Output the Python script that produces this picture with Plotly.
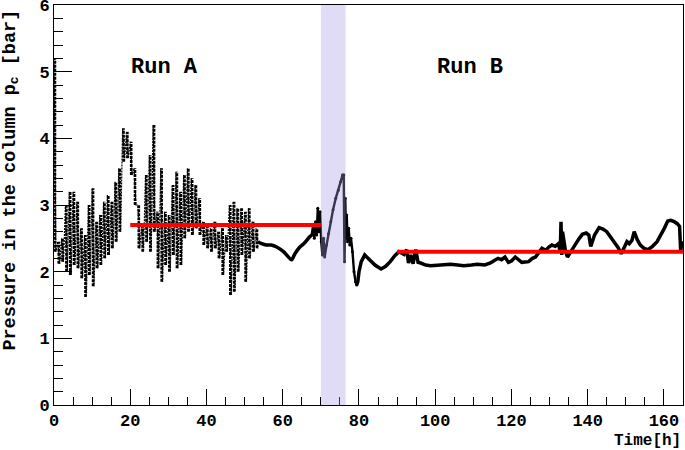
import plotly.graph_objects as go

# ---- Run A (oscillating part): hourly high / low pressure reads [bar]
timeA = [0, 1, 2, 3, 4, 5, 6, 7, 8, 9, 10, 11, 12, 13, 14, 15, 16, 17, 18, 19,
         20, 21, 22, 23, 24, 25, 26, 27, 28, 29, 30, 31, 32, 33, 34, 35, 36, 37,
         38, 39, 40, 41, 42, 43, 44, 45, 46, 47, 48, 49, 50, 51, 52, 53]
highA = [5.2, 2.45, 2.5, 3.0, 3.2, 3.2, 3.05, 2.65, 2.55, 3.0, 3.25, 2.75, 2.85,
         3.05, 3.15, 3.05, 3.35, 3.55, 4.15, 4.1, 3.95, 3.55, 3.0, 2.7, 3.45,
         3.75, 4.2, 2.9, 3.55, 2.9, 2.85, 3.3, 3.5, 3.2, 3.45, 3.55, 3.4, 3.3,
         3.1, 2.75, 2.7, 2.65, 2.75, 2.6, 2.65, 2.55, 3.0, 3.05, 2.95, 2.95,
         2.9, 2.95, 2.75, 2.65]
lowA = [2.3, 2.12, 2.15, 2.0, 1.95, 2.1, 2.05, 1.9, 1.62, 1.95, 1.78, 2.05, 2.1,
        2.2, 2.25, 2.35, 2.45, 2.6, 3.65, 3.7, 3.45, 3.0, 2.35, 2.3, 2.45, 2.3,
        2.6, 2.05, 1.85, 2.1, 2.0, 2.25, 2.05, 2.1, 2.5, 2.6, 2.55, 2.65, 2.55,
        2.4, 2.35, 2.3, 2.35, 2.2, 1.95, 2.3, 1.65, 1.7, 2.0, 2.25, 1.85, 2.2,
        2.3, 2.35]

# ---- smooth stretch at the end of Run A
timeA2 = [53.5, 54.5, 55.7, 57.0, 58.4, 60.2, 61.2, 62.3, 63.2, 64.5, 65.5,
          66.3, 67.0, 67.6]
presA2 = [2.45, 2.42, 2.40, 2.40, 2.37, 2.30, 2.24, 2.18, 2.27, 2.37, 2.42,
          2.47, 2.52, 2.55]

# ---- noisy end of Run A, transition (shaded) and decay
timeT = [67.6, 68.0, 68.3, 68.6, 68.9, 69.2, 69.5, 69.8, 70.1, 70.4, 70.7,
         71.0, 71.5, 72.0, 72.6, 73.2, 73.9, 74.6, 75.2, 75.7, 76.0, 76.2,
         76.4, 76.6, 76.8, 77.0, 77.3, 77.6, 77.9, 78.3, 78.7, 79.1, 79.4]
presT = [2.55, 2.7, 2.5, 2.75, 2.55, 2.95, 2.6, 2.9, 2.45, 2.25, 2.5, 2.22,
         2.4, 2.57, 2.75, 2.93, 3.1, 3.22, 3.35, 3.45, 3.45, 2.15, 3.1, 2.5,
         2.85, 2.45, 2.65, 2.4, 2.5, 2.3, 2.0, 1.85, 1.8]

# ---- Run B (smooth)
timeB = [79.4, 79.7, 80.0, 80.6, 81.5, 82.9, 84.2, 85.8, 87.0, 88.2, 89.4,
         90.5, 91.2, 91.8, 92.5, 93.0, 93.6, 94.2, 94.9, 95.5, 96.2, 97.5,
         98.8, 100.5, 102.4, 104.0, 105.9, 107.5, 109.5, 111.0, 113.0, 114.5,
         115.6, 116.5, 117.4, 118.3, 119.2, 120.0, 121.0, 122.0, 122.7, 124.5,
         125.5, 126.3, 127.0, 128.0, 129.0, 129.8, 130.6, 131.5, 132.3, 132.8,
         133.0, 133.2, 133.4, 134.2, 134.7, 135.5, 136.9, 137.8, 138.6, 139.6,
         140.3, 140.8, 141.8, 143.0, 144.0, 145.0, 146.0, 147.0, 148.0, 148.8,
         149.6, 150.3, 150.9, 151.6, 152.2, 153.0, 153.8, 154.8, 155.8, 157.0,
         158.2, 159.2, 160.1, 161.0, 161.8, 162.7, 163.5, 164.1, 164.4, 164.7,
         165.0]
presB = [1.8, 1.85, 2.0, 2.15, 2.25, 2.17, 2.1, 2.04, 2.08, 2.15, 2.24, 2.3,
         2.28, 2.26, 2.33, 2.13, 2.25, 2.12, 2.33, 2.14, 2.13, 2.1, 2.09, 2.1,
         2.1, 2.11, 2.1, 2.09, 2.1, 2.11, 2.1, 2.13, 2.17, 2.2, 2.18, 2.22,
         2.14, 2.16, 2.22, 2.17, 2.14, 2.15, 2.2, 2.22, 2.28, 2.35, 2.32, 2.37,
         2.4, 2.38, 2.42, 2.3, 2.75, 2.25, 2.6, 2.3, 2.22, 2.3, 2.42, 2.5, 2.56,
         2.58, 2.55, 2.38, 2.55, 2.66, 2.64, 2.6, 2.52, 2.46, 2.36, 2.27, 2.38,
         2.45, 2.42, 2.47, 2.6, 2.48, 2.4, 2.35, 2.33, 2.38, 2.45, 2.55, 2.65,
         2.76, 2.77, 2.75, 2.72, 2.68, 2.3, 2.45, 2.4]

# ---- mean values of the runs
runA_span = [20, 70]
runA_mean = 2.7
runB_span = [90, 165]
runB_mean = 2.3

# ---- transition window
trans_span = [70, 76.5]

FONT = "Liberation Mono, Courier New, monospace"

# vertical high-low strokes of Run A (one per hourly read)
vx, vy = [], []
for t, hi, lo in zip(timeA, highA, lowA):
    vx += [t + 0.25, t + 0.25, None]
    vy += [lo, hi, None]
# zigzag connecting the reads
zx, zy = [], []
for t, hi, lo in zip(timeA, highA, lowA):
    zx += [t, t + 0.5]
    zy += [hi, lo]

fig = go.Figure()
fig.add_trace(go.Scatter(x=vx, y=vy, mode="lines",
                         line=dict(color="black", width=2.6, dash="3px,1px"),
                         showlegend=False, hoverinfo="skip"))
fig.add_trace(go.Scatter(x=zx, y=zy, mode="lines",
                         line=dict(color="black", width=1.2, dash="2px,1px"),
                         showlegend=False, hoverinfo="skip"))
fig.add_trace(go.Scatter(x=timeA2, y=presA2, mode="lines",
                         line=dict(color="black", width=3.5, shape="spline"),
                         showlegend=False, hoverinfo="skip"))
fig.add_trace(go.Scatter(x=timeT, y=presT, mode="lines+markers",
                         line=dict(color="black", width=2.4),
                         marker=dict(color="black", size=3),
                         showlegend=False, hoverinfo="skip"))
fig.add_trace(go.Scatter(x=timeB, y=presB, mode="lines",
                         line=dict(color="black", width=3.5),
                         showlegend=False, hoverinfo="skip"))
fig.add_trace(go.Scatter(x=runA_span, y=[runA_mean] * 2, mode="lines",
                         line=dict(color="#ff0000", width=4),
                         showlegend=False, hoverinfo="skip"))
fig.add_trace(go.Scatter(x=runB_span, y=[runB_mean] * 2, mode="lines",
                         line=dict(color="#ff0000", width=4),
                         showlegend=False, hoverinfo="skip"))

fig.add_shape(type="rect", xref="x", yref="y",
              x0=trans_span[0], x1=trans_span[1], y0=0, y1=6,
              fillcolor="rgba(169,155,226,0.35)", line=dict(width=0),
              layer="above")

fig.add_annotation(x=29, y=5.07, text="Run A", showarrow=False,
                   font=dict(family=FONT, size=22, color="black", weight="bold"))
fig.add_annotation(x=109, y=5.07, text="Run B", showarrow=False,
                   font=dict(family=FONT, size=22, color="black", weight="bold"))

fig.add_annotation(xref="paper", yref="paper", x=1.0, y=-0.09,
                   xanchor="right", yanchor="middle", text="Time[h]",
                   showarrow=False,
                   font=dict(family=FONT, size=16, color="black", weight="bold"))
fig.add_annotation(xref="paper", yref="paper", x=-0.069, y=0.5625,
                   xanchor="center", yanchor="middle", textangle=-90,
                   text="Pressure in the column p<sub>c</sub> [bar]",
                   showarrow=False, borderpad=0,
                   font=dict(family=FONT, size=18.5, color="black", weight="bold"))

axis_common = dict(showline=True, linecolor="black", linewidth=1, mirror=True,
                   ticks="inside", tickcolor="black", showgrid=False,
                   zeroline=False, automargin=False, ticklabeloverflow="allow",
                   tickfont=dict(family=FONT, size=17, color="black", weight="bold"))

fig.update_xaxes(range=[0, 165], dtick=20, tick0=0, ticklen=16,
                 minor=dict(ticks="inside", dtick=5, ticklen=8,
                            tickcolor="black", showgrid=False),
                 **axis_common)
fig.update_yaxes(range=[0, 6.0005], dtick=1, tick0=0, ticklen=18,
                 minor=dict(ticks="inside", dtick=0.2, ticklen=9,
                            tickcolor="black", showgrid=False),
                 **axis_common)

fig.update_layout(width=685, height=450,
                  margin=dict(l=54, r=2, t=5, b=45, autoexpand=False),
                  paper_bgcolor="white", plot_bgcolor="white")

fig.write_html("out.html", config={"displayModeBar": False},
               post_script="document.body.style.margin='0';"
                           "document.body.style.padding='0';")
